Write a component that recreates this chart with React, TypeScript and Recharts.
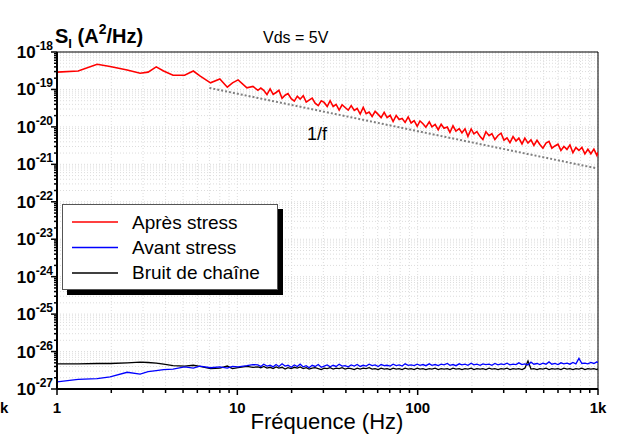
import { LineChart, Line, XAxis, YAxis, CartesianGrid, ReferenceLine } from "recharts";

const FONT = '"Liberation Sans", Arial, sans-serif';

// frequency points (Hz)
const freqs = [
  1, 1.31, 1.67, 1.97, 2.45, 2.89, 3.2, 3.55, 3.9, 4.4,
  5.1, 5.7, 6.2, 7.1, 8.0, 8.8, 9.4, 10.1, 11.3, 12.2,
  13, 13.5, 14, 14.6, 15.2, 15.8, 16.4, 17, 17.7, 18.4,
  19.1, 19.9, 20.7, 21.5, 22.3, 23.2, 24.1, 25, 26, 27,
  28.1, 29.2, 30.3, 31.5, 32.7, 34, 35.3, 36.7, 38.1, 39.6,
  41.2, 42.8, 44.5, 46.2, 48, 49.9, 51.8, 53.8, 55.9, 58.1,
  60.4, 62.7, 65.2, 67.7, 70.4, 73.1, 76, 79, 82, 85.2,
  88.6, 92, 95.6, 99.4, 103, 107, 111, 116, 120, 125,
  130, 135, 140, 146, 151, 157, 163, 170, 176, 183,
  190, 198, 205, 213, 222, 230, 239, 249, 258, 268,
  279, 290, 301, 313, 325, 338, 351, 364, 379, 393,
  409, 425, 441, 459, 476, 495, 515, 535, 555, 577,
  600, 623, 647, 673, 699, 726, 754, 784, 814, 846,
  879, 913, 949, 986, 1000,
];

// S_I (A²/Hz) after stress
const apresStress = [
  2.9e-19, 3.1e-19, 4.7e-19, 4.1e-19, 3.3e-19, 2.7e-19, 2.9e-19, 4.0e-19, 3.1e-19, 2.4e-19,
  2.4e-19, 3.1e-19, 2.3e-19, 1.5e-19, 1.9e-19, 1.15e-19, 1.5e-19, 1.8e-19, 1.1e-19, 1.2e-19,
  9.5e-20, 1.09e-19, 9.5e-20, 7.3e-20, 1.03e-19, 7.4e-20, 8.3e-20, 9.5e-20, 5.8e-20, 7.0e-20,
  7.8e-20, 5.7e-20, 4.9e-20, 6.6e-20, 5.5e-20, 6.8e-20, 4.6e-20, 5.2e-20, 5.9e-20, 4.3e-20,
  3.7e-20, 5.0e-20, 4.5e-20, 3.5e-20, 5.0e-20, 3.5e-20, 4.0e-20, 2.8e-20, 3.9e-20, 3.3e-20,
  2.8e-20, 3.7e-20, 2.75e-20, 3.1e-20, 2.2e-20, 3.3e-20, 2.25e-20, 2.5e-20, 1.9e-20, 2.6e-20,
  2.16e-20, 1.77e-20, 2.44e-20, 1.77e-20, 2.04e-20, 1.39e-20, 2.02e-20, 1.57e-20, 1.67e-20, 1.32e-20,
  1.84e-20, 1.27e-20, 1.47e-20, 1.04e-20, 1.44e-20, 1.21e-20, 9.8e-21, 1.36e-20, 1.0e-20, 1.17e-20,
  8.4e-21, 1.18e-20, 9.2e-21, 9.9e-21, 7.1e-21, 1.07e-20, 7.7e-21, 9.0e-21, 6.9e-21, 8.9e-21,
  5.6e-21, 8.8e-21, 6.5e-21, 7.5e-21, 5.5e-21, 4.6e-21, 7.4e-21, 5.8e-21, 6.6e-21, 4.6e-21,
  5.9e-21, 6.8e-21, 4.4e-21, 5.1e-21, 3.8e-21, 5.5e-21, 4.2e-21, 5.0e-21, 3.5e-21, 5.0e-21,
  3.7e-21, 4.5e-21, 3.2e-21, 4.4e-21, 3.4e-21, 2.7e-21, 3.7e-21, 4.1e-21, 2.7e-21, 3.1e-21,
  3.45e-21, 2.36e-21, 3.0e-21, 2.5e-21, 3.3e-21, 2.04e-21, 2.8e-21, 2.35e-21, 2.83e-21, 1.9e-21,
  2.52e-21, 1.92e-21, 2.54e-21, 1.74e-21, 2.1e-21,
];

// before stress
const avantStress = [
  1.55e-27, 1.8e-27, 1.9e-27, 2.1e-27, 2.8e-27, 2.5e-27, 2.9e-27, 3.1e-27, 3.3e-27, 3.4e-27,
  3.9e-27, 3.6e-27, 4.1e-27, 3.7e-27, 3.9e-27, 3.6e-27, 4.0e-27, 3.9e-27, 4.2e-27, 4.5e-27,
  4.4e-27, 4.0e-27, 4.6e-27, 4.1e-27, 4.3e-27, 3.9e-27, 4.5e-27, 4.0e-27, 4.7e-27, 4.1e-27,
  4.3e-27, 3.8e-27, 4.4e-27, 4.0e-27, 4.6e-27, 3.9e-27, 4.2e-27, 3.7e-27, 4.3e-27, 4.0e-27,
  4.5e-27, 3.8e-27, 4.1e-27, 4.4e-27, 3.9e-27, 4.3e-27, 4.0e-27, 4.6e-27, 4.1e-27, 4.2e-27,
  3.9e-27, 4.4e-27, 4.1e-27, 4.5e-27, 4.0e-27, 4.3e-27, 4.1e-27, 4.6e-27, 4.2e-27, 4.4e-27,
  4.0e-27, 4.5e-27, 4.2e-27, 4.3e-27, 4.1e-27, 4.6e-27, 4.2e-27, 4.4e-27, 4.1e-27, 4.7e-27,
  4.3e-27, 4.4e-27, 4.2e-27, 4.6e-27, 4.3e-27, 4.5e-27, 4.2e-27, 4.7e-27, 4.3e-27, 4.5e-27,
  4.2e-27, 4.6e-27, 4.4e-27, 4.8e-27, 4.3e-27, 4.5e-27, 4.2e-27, 4.7e-27, 4.4e-27, 4.6e-27,
  4.3e-27, 4.9e-27, 4.4e-27, 4.6e-27, 4.3e-27, 4.7e-27, 4.5e-27, 4.6e-27, 4.3e-27, 4.8e-27,
  4.4e-27, 4.7e-27, 4.5e-27, 4.9e-27, 4.4e-27, 4.6e-27, 4.5e-27, 5.0e-27, 4.5e-27, 4.7e-27,
  4.4e-27, 5.2e-27, 4.6e-27, 4.8e-27, 4.5e-27, 4.9e-27, 4.6e-27, 5.3e-27, 4.6e-27, 4.8e-27,
  4.5e-27, 5.0e-27, 4.7e-27, 4.9e-27, 4.6e-27, 5.1e-27, 4.7e-27, 6.6e-27, 4.8e-27, 4.9e-27,
  4.7e-27, 5.1e-27, 4.8e-27, 5.3e-27, 5.0e-27,
];

// measurement chain noise floor
const bruitChaine = [
  4.7e-27, 4.7e-27, 4.8e-27, 4.8e-27, 5.0e-27, 5.2e-27, 5.1e-27, 4.9e-27, 4.6e-27, 4.2e-27,
  4.1e-27, 4.3e-27, 4.0e-27, 3.5e-27, 3.6e-27, 4.1e-27, 3.5e-27, 3.7e-27, 4.0e-27, 3.8e-27,
  3.9e-27, 3.7e-27, 4.0e-27, 3.6e-27, 3.8e-27, 3.5e-27, 3.9e-27, 3.6e-27, 3.8e-27, 3.4e-27,
  3.7e-27, 3.5e-27, 3.8e-27, 3.6e-27, 3.9e-27, 3.5e-27, 3.7e-27, 3.4e-27, 3.6e-27, 3.7e-27,
  3.5e-27, 3.3e-27, 3.6e-27, 3.5e-27, 3.7e-27, 3.4e-27, 3.6e-27, 3.5e-27, 3.7e-27, 3.4e-27,
  3.6e-27, 3.5e-27, 3.3e-27, 3.6e-27, 3.4e-27, 3.6e-27, 3.5e-27, 3.7e-27, 3.4e-27, 3.5e-27,
  3.3e-27, 3.6e-27, 3.4e-27, 3.5e-27, 3.3e-27, 3.6e-27, 3.4e-27, 3.5e-27, 3.3e-27, 3.6e-27,
  3.4e-27, 3.5e-27, 3.3e-27, 3.6e-27, 3.4e-27, 3.5e-27, 3.3e-27, 3.5e-27, 3.4e-27, 3.6e-27,
  3.3e-27, 3.5e-27, 3.4e-27, 3.5e-27, 3.3e-27, 3.6e-27, 3.4e-27, 3.5e-27, 3.3e-27, 3.5e-27,
  3.4e-27, 3.6e-27, 3.3e-27, 3.5e-27, 3.4e-27, 3.5e-27, 3.3e-27, 3.6e-27, 3.4e-27, 3.5e-27,
  3.3e-27, 3.5e-27, 3.4e-27, 3.6e-27, 3.3e-27, 3.5e-27, 3.4e-27, 3.5e-27, 3.3e-27, 3.6e-27,
  5.6e-27, 3.4e-27, 3.5e-27, 3.3e-27, 3.5e-27, 3.4e-27, 3.6e-27, 3.3e-27, 3.5e-27, 3.4e-27,
  3.5e-27, 3.3e-27, 3.6e-27, 3.4e-27, 3.5e-27, 3.3e-27, 3.5e-27, 3.4e-27, 3.6e-27, 3.3e-27,
  3.5e-27, 3.4e-27, 3.5e-27, 3.3e-27, 3.5e-27,
];

// 1/f guide line
const fitFreq = [7, 1000];
const fitVal = [1.1e-19, 7.7e-22];

const xMajor = [1, 10, 100, 1000];
const xTickLabels = ["1", "10", "100", "1k"];
const yMajor = [1e-27, 1e-26, 1e-25, 1e-24, 1e-23, 1e-22, 1e-21, 1e-20, 1e-19, 1e-18];
const yExponents = ["-27", "-26", "-25", "-24", "-23", "-22", "-21", "-20", "-19", "-18"];

const series = [
  { key: "apres", name: "Après stress", color: "#ff0000" },
  { key: "avant", name: "Avant stress", color: "#0000ff" },
  { key: "bruit", name: "Bruit de chaîne", color: "#000000" },
];

const minors = (majors: number[]) =>
  majors.slice(0, -1).flatMap((d) => [2, 3, 4, 5, 6, 7, 8, 9].map((m) => m * d));
const xTicks = [...xMajor, ...minors(xMajor)].sort((a, b) => a - b);
const yTicks = [...yMajor, ...minors(yMajor)].sort((a, b) => a - b);

const data = freqs.map((f, i) => ({
  f,
  apres: apresStress[i],
  avant: avantStress[i],
  bruit: bruitChaine[i],
}));
const fitData = fitFreq.map((f, i) => ({ f, fit: fitVal[i] }));

const XTick = (props: any) => {
  const { x, y, payload } = props;
  const idx = xMajor.indexOf(payload.value);
  const major = idx >= 0;
  return (
    <g>
      <line x1={x} x2={x} y1={y} y2={y + (major ? 6 : 4)} stroke="#000" strokeWidth={1.5} />
      {major && (
        <text x={x} y={y + 24} textAnchor="middle" fontFamily={FONT} fontWeight="bold" fontSize={15} fill="#000">
          {xTickLabels[idx]}
        </text>
      )}
    </g>
  );
};

const YTick = (props: any) => {
  const { x, y, payload } = props;
  const idx = yMajor.indexOf(payload.value);
  const major = idx >= 0;
  return (
    <g>
      <line x1={x} x2={x - (major ? 6 : 3)} y1={y} y2={y} stroke="#000" strokeWidth={1.5} />
      {major && (
        <text x={x - 4} y={y + 6} textAnchor="end" fontFamily={FONT} fontWeight="bold" fontSize={17} fill="#000">
          10
          <tspan dy={-8} fontSize={12}>
            {yExponents[idx]}
          </tspan>
        </text>
      )}
    </g>
  );
};

export default function App() {
  return (
    <div style={{ position: "absolute", left: 0, top: 0, width: 617, height: 435, background: "#fff" }}>
      <LineChart width={617} height={435} data={data} margin={{ top: 52, right: 19, left: 0, bottom: 0 }}>
        <CartesianGrid stroke="#dcdcdc" strokeDasharray="1 2" />
        <XAxis
          dataKey="f"
          type="number"
          scale="log"
          domain={[1, 1000]}
          allowDataOverflow
          ticks={xTicks}
          interval={0}
          height={46}
          tickSize={0}
          tickMargin={0}
          tickLine={false}
          tick={<XTick />}
          axisLine={{ stroke: "#000", strokeWidth: 2 }}
        />
        <YAxis
          type="number"
          scale="log"
          domain={[1e-27, 1e-18]}
          allowDataOverflow
          ticks={yTicks}
          interval={0}
          width={57}
          tickSize={0}
          tickMargin={0}
          tickLine={false}
          tick={<YTick />}
          axisLine={{ stroke: "#000", strokeWidth: 2 }}
        />
        <ReferenceLine y={1e-18} stroke="#000" strokeWidth={1} />
        <ReferenceLine x={1000} stroke="#000" strokeWidth={1} />
        <Line dataKey="bruit" stroke="#000000" strokeWidth={1.3} dot={false} isAnimationActive={false} />
        <Line dataKey="avant" stroke="#0000ff" strokeWidth={1.3} dot={false} isAnimationActive={false} />
        <Line dataKey="apres" stroke="#ff0000" strokeWidth={1.6} dot={false} isAnimationActive={false} />
        <Line
          data={fitData}
          dataKey="fit"
          stroke="#808080"
          strokeWidth={2}
          strokeDasharray="2 2"
          dot={false}
          isAnimationActive={false}
        />
      </LineChart>

      <svg
        width={617}
        height={435}
        style={{ position: "absolute", left: 0, top: 0, pointerEvents: "none" }}
        fontFamily={FONT}
      >
        <text x={55} y={43} fontWeight="bold" fontSize={20} fill="#000">
          S<tspan dy={5} fontSize={13}>I</tspan>
          <tspan dy={-5}> (A</tspan>
          <tspan dy={-9} fontSize={14}>2</tspan>
          <tspan dy={9}>/Hz)</tspan>
        </text>
        <text x={263} y={43} fontSize={16} fill="#000">Vds = 5V</text>
        <text x={307} y={140} fontSize={18} fill="#000">1/f</text>
        <text x={0} y={413} fontSize={15} fontWeight="bold" fill="#000">k</text>
        <text x={327} y={429} fontSize={22} textAnchor="middle" fill="#000">Fréquence (Hz)</text>
      </svg>

      <div
        style={{
          position: "absolute",
          left: 62,
          top: 204,
          width: 216,
          height: 86,
          boxSizing: "border-box",
          background: "#fff",
          border: "1px solid #555",
          boxShadow: "5px 5px 0 #000",
        }}
      >
        <svg width={216} height={86} style={{ position: "absolute", left: -1, top: -1 }} fontFamily={FONT}>
          {series.map((s, i) => (
            <g key={s.key}>
              <line x1={10} x2={56} y1={18 + i * 25.5} y2={18 + i * 25.5} stroke={s.color} strokeWidth={1.5} />
              <text x={70} y={25 + i * 25} fontSize={19} fill="#000">
                {s.name}
              </text>
            </g>
          ))}
        </svg>
      </div>
    </div>
  );
}
